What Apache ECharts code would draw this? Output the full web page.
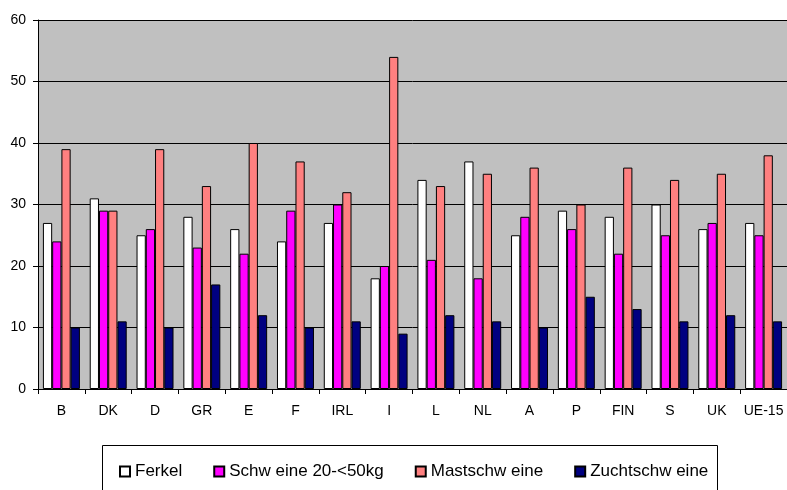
<!DOCTYPE html>
<html>
<head>
<meta charset="utf-8">
<script src="https://cdn.jsdelivr.net/npm/echarts@6/dist/echarts.min.js"></script>
<style>
  html, body { margin: 0; padding: 0; background: #fff; }
  #chart { width: 787px; height: 490px; }
</style>
</head>
<body>
<div id="chart"></div>
<script>
  // Werte
  var countries = ['B', 'DK', 'D', 'GR', 'E', 'F', 'IRL', 'I', 'L', 'NL', 'A', 'P', 'FIN', 'S', 'UK', 'UE-15'];
  var ferkel = [27, 31, 25, 28, 26, 24, 27, 18, 34, 37, 25, 29, 28, 30, 26, 27];
  var schweine = [24, 29, 26, 23, 22, 29, 30, 20, 21, 18, 28, 26, 22, 25, 27, 25];
  var mast = [39, 29, 39, 33, 40, 37, 32, 54, 33, 35, 36, 30, 36, 34, 35, 38];
  var zucht = [10, 11, 10, 17, 12, 10, 11, 9, 12, 11, 10, 15, 13, 11, 12, 11];
  var yTicks = { min: 0, max: 60, interval: 10 };

  var chart = echarts.init(document.getElementById('chart'));

  function bar(name, data, color) {
    return {
      name: name,
      type: 'bar',
      data: data,
      barGap: '0%',
      barCategoryGap: '21%',
      itemStyle: { color: color, borderColor: '#000', borderWidth: 1 },
      emphasis: { disabled: true }
    };
  }

  var option = {
    animation: false,
    textStyle: { fontFamily: 'Liberation Sans, Arial, sans-serif' },
    grid: {
      left: 38, right: 0, top: 20, bottom: 101,
      show: true, backgroundColor: '#C0C0C0', borderWidth: 0
    },
    graphic: [{
      type: 'rect',
      shape: { x: 102.5, y: 445.5, width: 615, height: 60 },
      style: { fill: 'none', stroke: '#000', lineWidth: 1 },
      z: 1
    }],
    legend: {
      left: 114, top: 458,
      itemWidth: 10, itemHeight: 10, itemGap: 31,
      icon: 'rect',
      textStyle: { fontSize: 17, color: '#000', fontFamily: 'Liberation Sans, Arial, sans-serif' },
      data: ['Ferkel', 'Schw eine 20-<50kg', 'Mastschw eine', 'Zuchtschw eine']
    },
    xAxis: {
      type: 'category',
      data: countries,
      axisLine: { lineStyle: { color: '#000', width: 1 } },
      axisTick: { show: true, inside: false, length: 5, lineStyle: { color: '#000' } },
      axisLabel: { color: '#000', fontSize: 14, margin: 15, interval: 0 }
    },
    yAxis: {
      type: 'value',
      min: yTicks.min, max: yTicks.max, interval: yTicks.interval,
      axisLine: { show: true, lineStyle: { color: '#000' } },
      axisTick: { show: true, length: 5, lineStyle: { color: '#000' } },
      axisLabel: { color: '#000', fontSize: 14, margin: 12 },
      splitLine: { show: true, lineStyle: { color: '#000', width: 1 } }
    },
    series: [
      bar('Ferkel', ferkel, '#FFFFFF'),
      bar('Schw eine 20-<50kg', schweine, '#FF00FF'),
      bar('Mastschw eine', mast, '#FF8080'),
      bar('Zuchtschw eine', zucht, '#000080')
    ]
  };

  chart.setOption(option);
</script>
</body>
</html>
